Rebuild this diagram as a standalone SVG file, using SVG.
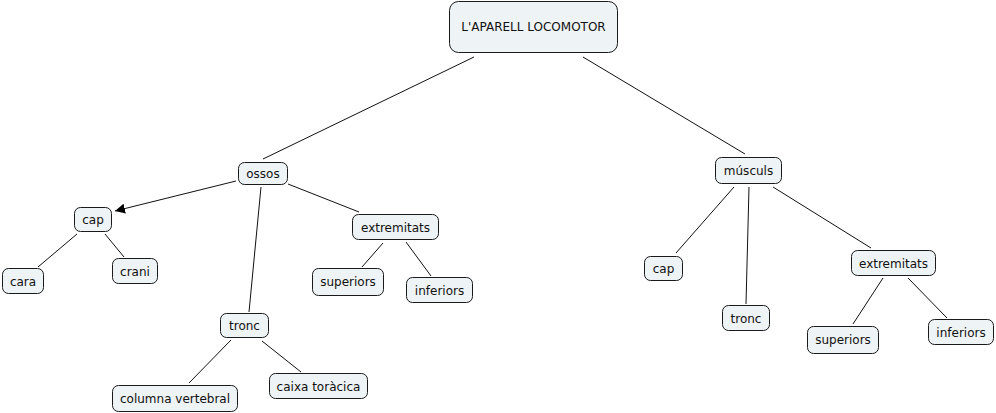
<svg xmlns="http://www.w3.org/2000/svg" width="996" height="413" viewBox="0 0 996 413">
<style>
.n rect{fill:#EEF3F5;stroke:#1a1a1a;stroke-width:1}
.n text{font-family:"DejaVu Sans",Verdana,sans-serif;font-size:12px;fill:#111;text-anchor:middle}
.c line{stroke:#111;stroke-width:1}
</style>
<defs>
<marker id="arr" viewBox="0 0 10 10" refX="10" refY="5" markerWidth="10" markerHeight="10" markerUnits="userSpaceOnUse" orient="auto">
<path d="M0,0 L10,5 L0,10 z" fill="#000"/>
</marker>
</defs>
<rect width="996" height="413" fill="#fff"/>
<g class="c">
<line x1="474" y1="57" x2="263" y2="159"/>
<line x1="583" y1="57" x2="745" y2="154"/>
<line x1="236" y1="181" x2="115" y2="211" marker-end="url(#arr)"/>
<line x1="288" y1="184" x2="359" y2="212"/>
<line x1="261" y1="187" x2="249" y2="312"/>
<line x1="77" y1="234" x2="38" y2="267"/>
<line x1="105" y1="234" x2="124" y2="257"/>
<line x1="383" y1="243" x2="362" y2="267"/>
<line x1="406" y1="242" x2="431" y2="276"/>
<line x1="231" y1="340" x2="189" y2="383"/>
<line x1="262" y1="341" x2="301" y2="372"/>
<line x1="734" y1="187" x2="676" y2="253"/>
<line x1="749" y1="187" x2="746" y2="304"/>
<line x1="773" y1="187" x2="871" y2="248"/>
<line x1="883" y1="278" x2="853" y2="324"/>
<line x1="908" y1="278" x2="947" y2="318"/>
</g>
<g id="n-top" class="n"><rect x="449.5" y="1.5" width="168" height="51" rx="9"/><text x="533.5" y="31">L'APARELL LOCOMOTOR</text></g>
<g id="n-ossos" class="n"><rect x="238.5" y="162.5" width="49" height="22" rx="6"/><text x="263" y="177.5">ossos</text></g>
<g id="n-cap1" class="n"><rect x="74.5" y="207.5" width="37" height="24" rx="6"/><text x="93" y="223.5">cap</text></g>
<g id="n-cara" class="n"><rect x="2.5" y="268.5" width="41" height="25" rx="6"/><text x="23" y="285.5">cara</text></g>
<g id="n-crani" class="n"><rect x="112.5" y="258.5" width="45" height="25" rx="6"/><text x="135" y="275.5">crani</text></g>
<g id="n-ext1" class="n"><rect x="352.5" y="214.5" width="86" height="25" rx="6"/><text x="395.5" y="231.5">extremitats</text></g>
<g id="n-sup1" class="n"><rect x="312.5" y="268.5" width="71" height="27" rx="6"/><text x="348" y="286">superiors</text></g>
<g id="n-inf1" class="n"><rect x="406.5" y="277.5" width="66" height="25" rx="6"/><text x="439.5" y="294.5">inferiors</text></g>
<g id="n-tronc1" class="n"><rect x="220.5" y="313.5" width="48" height="24" rx="6"/><text x="244.5" y="329.5">tronc</text></g>
<g id="n-col" class="n"><rect x="112.5" y="385.5" width="125" height="26" rx="6"/><text x="175" y="403">columna vertebral</text></g>
<g id="n-caixa" class="n"><rect x="269.5" y="373.5" width="98" height="25" rx="6"/><text x="318.5" y="390.5">caixa toràcica</text></g>
<g id="n-musc" class="n"><rect x="715.5" y="157.5" width="66" height="26" rx="6"/><text x="748.5" y="175">músculs</text></g>
<g id="n-cap2" class="n"><rect x="644.5" y="256.5" width="38" height="24" rx="6"/><text x="663.5" y="272.5">cap</text></g>
<g id="n-tronc2" class="n"><rect x="722.5" y="305.5" width="47" height="25" rx="6"/><text x="746" y="322.5">tronc</text></g>
<g id="n-ext2" class="n"><rect x="851.5" y="250.5" width="84" height="25" rx="6"/><text x="893.5" y="267.5">extremitats</text></g>
<g id="n-sup2" class="n"><rect x="807.5" y="326.5" width="71" height="27" rx="6"/><text x="843" y="344">superiors</text></g>
<g id="n-inf2" class="n"><rect x="928.5" y="319.5" width="65" height="25" rx="6"/><text x="961" y="336.5">inferiors</text></g>
</svg>
